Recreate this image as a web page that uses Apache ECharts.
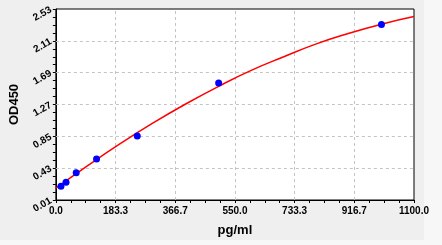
<!DOCTYPE html>
<html><head><meta charset="utf-8">
<script src="https://cdn.jsdelivr.net/npm/echarts@6/dist/echarts.min.js"></script>
<style>html,body{margin:0;padding:0;background:#f7f7f7}#c{width:442px;height:245px}</style>
</head><body><div id="c"></div>
<script>
// Standard points (concentration pg/ml, OD450)
const stdConc = [15.6, 31.25, 62.5, 125, 250, 500, 1000];
const stdOD = [0.19, 0.245, 0.37, 0.55, 0.855, 1.555, 2.325];
// Fitted curve
const fitConc = [0, 100, 200, 300, 400, 500, 600, 700, 800, 900, 1000, 1100];
const fitOD = [0.165, 0.47, 0.76, 1.03, 1.28, 1.51, 1.72, 1.90, 2.07, 2.21, 2.33, 2.43];
// Tick labels
const xTickLabels = [0.0, 183.3, 366.7, 550.0, 733.3, 916.7, 1100.0];
const yTickLabels = [0.01, 0.43, 0.85, 1.27, 1.69, 2.11, 2.53];

function subdivide(arr, n) {
  const out = [];
  for (let i = 0; i < arr.length - 1; i++) {
    for (let k = 0; k < n; k++) out.push(arr[i] + (arr[i + 1] - arr[i]) * k / n);
  }
  out.push(arr[arr.length - 1]);
  return out;
}
const xTicksAll = subdivide(xTickLabels, 4);
const yTicksAll = subdivide(yTickLabels, 4);

const chart = echarts.init(document.getElementById('c'), null, {renderer: 'canvas'});
const gridStyle = {color: '#c4c4c4', type: [3, 3], width: 1};
chart.setOption({
  animation: false,
  backgroundColor: 'transparent',
  graphic: [{
    type: 'rect', left: 0, top: 0, z: -10,
    shape: {x: 0, y: 0, width: 424, height: 240},
    style: {fill: '#efefef'}
  }],
  grid: {left: 53, top: 9, right: 28, bottom: 45, show: true, backgroundColor: '#ffffff', borderColor: '#000', borderWidth: 1},
  xAxis: {
    type: 'value', min: 0, max: 1100,
    name: 'pg/ml', nameLocation: 'middle', nameGap: 24,
    nameTextStyle: {fontFamily: 'Liberation Sans', fontWeight: 'bold', fontSize: 13, color: '#000'},
    axisLine: {show: true, lineStyle: {color: '#000', width: 1}},
    axisTick: {show: true, length: 3, inside: false, customValues: xTicksAll, lineStyle: {color: '#000'}},
    axisLabel: {customValues: xTickLabels, formatter: v => v.toFixed(1), margin: 6,
      fontFamily: 'Liberation Sans', fontWeight: 'bold', fontSize: 10, color: '#000'},
    splitLine: {show: false}
  },
  yAxis: {
    type: 'value', min: 0.01, max: 2.53,
    name: 'OD450', nameLocation: 'middle', nameGap: 33, nameRotate: 90,
    nameTextStyle: {fontFamily: 'Liberation Sans', fontWeight: 'bold', fontSize: 13, color: '#000'},
    axisLine: {show: true, lineStyle: {color: '#000', width: 1}},
    axisTick: {show: true, length: 3, inside: false, customValues: yTicksAll, lineStyle: {color: '#000'}},
    axisLabel: {customValues: yTickLabels, formatter: v => v.toFixed(2), rotate: 30, margin: 5,
      fontFamily: 'Liberation Sans', fontWeight: 'bold', fontSize: 10, color: '#000'},
    splitLine: {show: false}
  },
  series: [{
    type: 'line',
    data: fitConc.map((x, i) => [x, fitOD[i]]),
    smooth: true, showSymbol: false,
    lineStyle: {color: '#ff0000', width: 1.5},
    z: 3,
    markLine: {
      silent: true, symbol: ['none', 'none'], label: {show: false},
      lineStyle: gridStyle, z: 1,
      data: xTickLabels.slice(1, -1).map(v => ({xAxis: v}))
        .concat(yTickLabels.slice(1, -1).map(v => ({yAxis: v})))
    }
  }, {
    type: 'scatter',
    data: stdConc.map((x, i) => [x, stdOD[i]]),
    symbol: 'circle', symbolSize: 7,
    itemStyle: {color: '#0000ff', opacity: 1},
    z: 4
  }]
});
</script></body></html>
